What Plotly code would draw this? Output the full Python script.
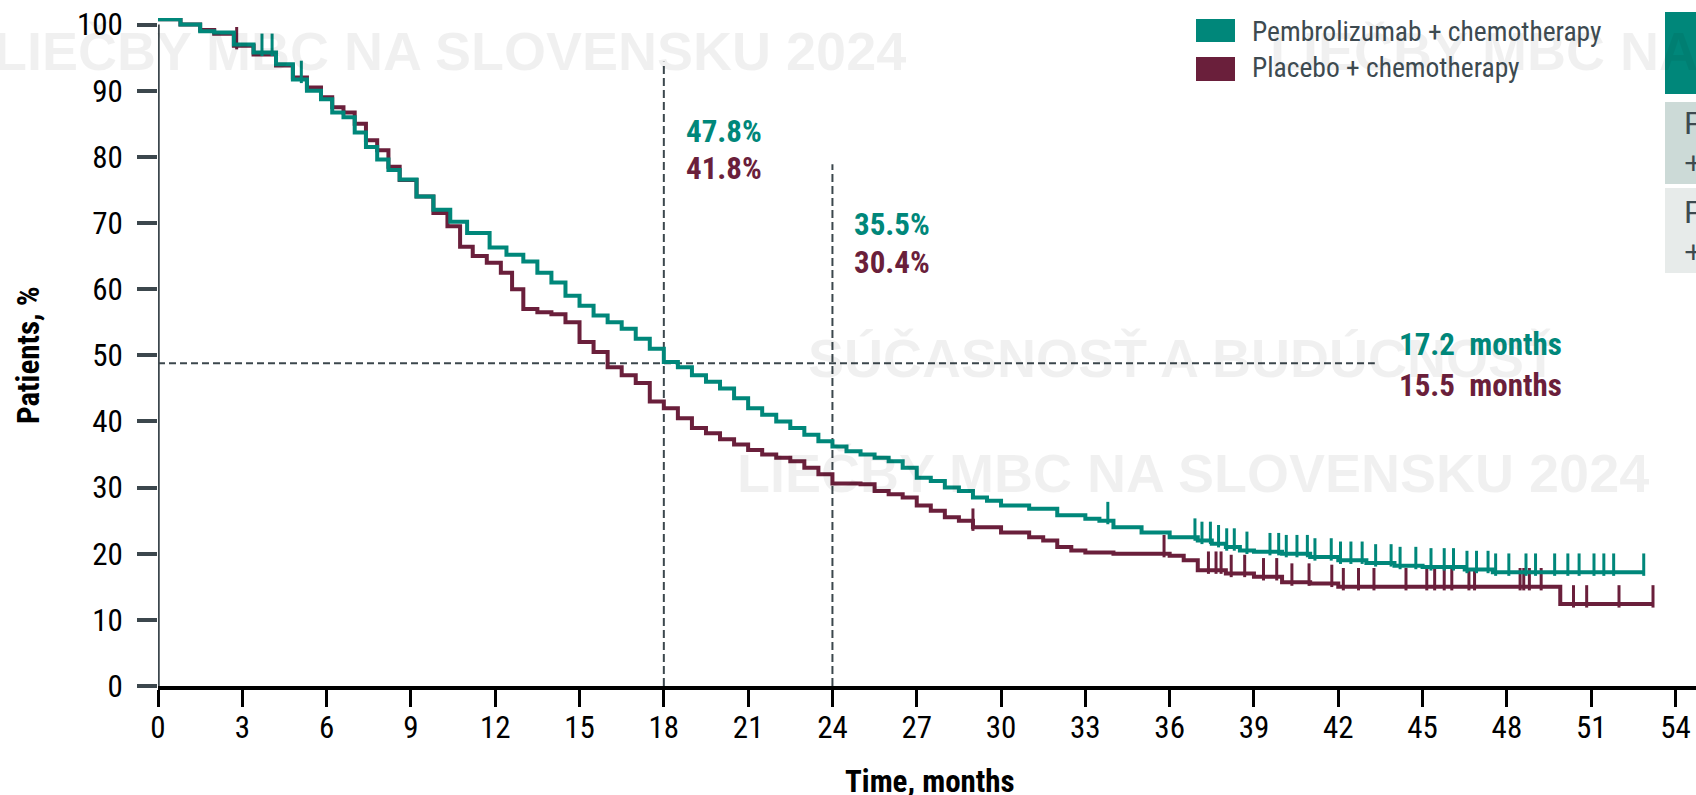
import numpy as np
import plotly.graph_objects as go

# ---------------- data ----------------
x_ticks = list(range(0, 55, 3))
y_ticks = list(range(0, 101, 10))

pem_t = [0, 0.8, 1.5, 2.0, 2.7, 3.4, 4.2, 4.8, 5.3, 5.8, 6.2, 6.6, 7.0, 7.4, 7.8, 8.2, 8.6, 9.2, 9.8,
         10.4, 11.0, 11.8, 12.4, 13.0, 13.5, 14.0, 14.5, 15.0, 15.5, 16.0, 16.5, 17.0, 17.5, 18.0,
         18.5, 19.0, 19.5, 20.0, 20.5, 21.0, 21.5, 22.0, 22.5, 23.0, 23.5, 24.0, 24.5, 25.0, 25.5,
         26.0, 26.5, 27.0, 27.5, 28.0, 28.5, 29.0, 29.5, 30.0, 31.0, 32.0, 33.0, 33.5, 34.0, 35.0,
         36.0, 37.0, 37.5, 38.0, 38.5, 39.0, 40.0, 41.0, 42.0, 43.0, 44.0, 45.0, 46.5, 47.5, 52.9]
pem_s = [100.8, 100, 99, 98.8, 97, 95.8, 94, 91.7, 90, 88.7, 86.7, 86, 83.7, 81.5, 79.6, 78, 76.6, 74, 72,
         70.2, 68.5, 66.3, 65.2, 64.2, 62.5, 61, 59, 57.5, 56, 55, 54, 52.5, 51, 49,
         48.2, 47, 46, 45, 43.5, 42, 41, 40, 39, 38, 37, 36.2, 35.5, 35, 34.5,
         34, 33, 31.5, 31, 30, 29.5, 28.5, 28, 27.3, 26.8, 25.8, 25.3, 25, 24, 23.2,
         22.5, 22, 21.5, 21, 20.5, 20.3, 20, 19.5, 19, 18.6, 18.2, 18, 17.6, 17.2, 17.2]

pla_t = [0, 0.8, 1.5, 2.0, 2.7, 3.4, 4.2, 4.8, 5.3, 5.8, 6.2, 6.6, 7.0, 7.4, 7.8, 8.2, 8.6, 9.2, 9.8,
         10.3, 10.75, 11.2, 11.7, 12.2, 12.6, 13.0, 13.5, 14.0, 14.5, 15.0, 15.5, 16.0, 16.5, 17.0,
         17.5, 18.0, 18.5, 19.0, 19.5, 20.0, 20.5, 21.0, 21.5, 22.0, 22.5, 23.0, 23.5, 24.0, 25.0,
         25.5, 26.0, 26.5, 27.0, 27.5, 28.0, 28.5, 29.0, 30.0, 31.0, 31.5, 32.0, 32.5, 33.0, 34.0,
         36.0, 36.5, 37.0, 38.0, 39.0, 40.0, 41.0, 42.0, 49.9, 53.2]
pla_s = [100.8, 100, 99.2, 98.6, 96.8, 95.5, 93.8, 92, 90.5, 89, 87.5, 86.7, 85, 82.5, 81, 78.5, 76.5, 74, 71.5,
         69.5, 66.4, 65, 64, 62.5, 60, 57, 56.5, 56.2, 55, 52, 50.5, 48.2, 47, 45.8,
         43, 42, 40.5, 39, 38.2, 37.3, 36.5, 35.7, 35, 34.5, 34, 33, 32, 30.6, 30.5,
         29.5, 29, 28.5, 27.3, 26.5, 25.5, 25, 24, 23.2, 22.5, 22, 21, 20.5, 20.2, 20,
         19.7, 19, 17.5, 17, 16.5, 15.7, 15.5, 15, 12.4, 12.4]

pem_cens = [3.7, 4.06, 5.1, 33.8, 36.9, 37.15, 37.45, 37.74, 38.03, 38.3, 38.75, 39.57, 39.88, 40.15,
            40.53, 40.9, 41.17, 41.75, 42.08, 42.45, 42.85, 43.33, 43.88, 44.2, 44.76, 45.3, 45.77,
            46.1, 46.58, 46.92, 47.33, 47.6, 48.07, 48.68, 49.02, 49.7, 50.17, 50.57, 51.1, 51.45,
            51.8, 52.87]
pla_cens = [2.8, 29.0, 35.8, 37.38, 37.65, 37.83, 38.19, 38.67, 39.34, 39.81, 40.35, 40.96, 41.77,
            42.18, 42.72, 43.27, 44.41, 45.15, 45.43, 45.77, 46.04, 46.65, 46.85, 48.47, 48.6, 48.8,
            49.22, 50.37, 50.84, 51.99, 53.2]

landmark_months = [18, 24]
landmark_tops = [94.4, 78.9]
median_level = 48.8
median_line_end = 43.3

pem_name = "Pembrolizumab + chemotherapy"
pla_name = "Placebo + chemotherapy"
pem_landmarks = ["47.8%", "35.5%"]
pla_landmarks = ["41.8%", "30.4%"]
medians = ["17.2\u00a0 months", "15.5\u00a0 months"]

# ---------------- style ----------------
TEAL = "#00877A"
MAROON = "#6A1F3B"
SLATE = "#3C474D"
FONT = "Roboto, sans-serif"          # rendered condensed (see post_script)
WM_FONT = "Liberation Sans, Arial, sans-serif"

W, H = 1696, 795
L, R, T, B = 158, 0, 18, 109
PW, PH = W - L - R, H - T - B
XR = [0, 54.73]
YR = [0, 101]


def px2x(px):  # figure pixel -> paper x
    return (px - L) / PW


def py2y(py):  # figure pixel -> paper y
    return (H - B - py) / PH


def step_at(ts, ss, t):
    i = np.searchsorted(np.asarray(ts), t, side="right") - 1
    return np.asarray(ss)[np.clip(i, 0, len(ss) - 1)]


tick_off = 1.15
fig = go.Figure()
for ts, ss, cens, col, name in [(pla_t, pla_s, pla_cens, MAROON, pla_name),
                                (pem_t, pem_s, pem_cens, TEAL, pem_name)]:
    fig.add_trace(go.Scatter(x=ts, y=ss, mode="lines", line=dict(color=col, width=4, shape="hv"),
                             name=name, showlegend=False))
    cy = (step_at(ts, ss, np.array(cens)) + tick_off).tolist()
    fig.add_trace(go.Scatter(x=cens, y=cy, mode="markers", showlegend=False, name=name + " censored",
                             marker=dict(symbol="line-ns", size=16, line=dict(color=col, width=3))))

shapes = []
for m, top in zip(landmark_months, landmark_tops):
    shapes.append(dict(type="line", xref="x", yref="y", x0=m, x1=m, y0=0, y1=top,
                       line=dict(color=SLATE, width=2, dash="8px,4px"), layer="below"))
shapes.append(dict(type="line", xref="x", yref="y", x0=0, x1=median_line_end, y0=median_level,
                   y1=median_level, line=dict(color=SLATE, width=2, dash="7px,4px"), layer="below"))
shapes.append(dict(type="line", xref="x", yref="y", x0=0, x1=0, y0=0, y1=100,
                   line=dict(color=SLATE, width=3.5)))

# legend swatches
shapes.append(dict(type="rect", xref="paper", yref="paper", x0=px2x(1196), x1=px2x(1235),
                   y0=py2y(42), y1=py2y(19), fillcolor=TEAL, line=dict(width=0)))
shapes.append(dict(type="rect", xref="paper", yref="paper", x0=px2x(1196), x1=px2x(1235),
                   y0=py2y(81), y1=py2y(57), fillcolor=MAROON, line=dict(width=0)))
# right-edge table fragment
shapes.append(dict(type="rect", xref="paper", yref="paper", x0=px2x(1665), x1=px2x(1700),
                   y0=py2y(94), y1=py2y(12), fillcolor=TEAL, line=dict(width=0)))
shapes.append(dict(type="rect", xref="paper", yref="paper", x0=px2x(1665), x1=px2x(1700),
                   y0=py2y(184), y1=py2y(102), fillcolor="#CCDAD7", line=dict(width=0)))
shapes.append(dict(type="rect", xref="paper", yref="paper", x0=px2x(1665), x1=px2x(1700),
                   y0=py2y(273), y1=py2y(188), fillcolor="#E7EBEA", line=dict(width=0)))

ann = []
WM = "rgba(0,0,0,0.06)"
for txt, xa, px, py in [("LIEČBY MBC NA SLOVENSKU 2024", "right", 908, 51),
                        ("LIEČBY MBC NA SLOVENSKU 2024", "left", 1268, 51),
                        ("SÚČASNOSŤ A BUDÚCNOSŤ", "left", 806, 358),
                        ("LIEČBY MBC NA SLOVENSKU 2024", "left", 735, 473)]:
    ann.append(dict(text=txt, xref="paper", yref="paper", x=px2x(px), y=py2y(py), xanchor=xa,
                    yanchor="middle", showarrow=False,
                    font=dict(family=WM_FONT, size=54, color=WM, weight="bold")))

ann.append(dict(text=pem_name, xref="paper", yref="paper", x=px2x(1250), y=py2y(31), xanchor="left",
                yanchor="middle", showarrow=False, font=dict(family=FONT, size=27.5, color="#3D4A50")))
ann.append(dict(text=pla_name, xref="paper", yref="paper", x=px2x(1250), y=py2y(67), xanchor="left",
                yanchor="middle", showarrow=False, font=dict(family=FONT, size=27.5, color="#3D4A50")))
for py in [123, 212]:
    ann.append(dict(text="P", xref="paper", yref="paper", x=px2x(1682), y=py2y(py), xanchor="left",
                    yanchor="middle", showarrow=False, font=dict(family=WM_FONT, size=32, color="#3D4A50")))
for py in [163, 252]:
    ann.append(dict(text="+", xref="paper", yref="paper", x=px2x(1682), y=py2y(py), xanchor="left",
                    yanchor="middle", showarrow=False, font=dict(family=WM_FONT, size=32, color="#3D4A50")))

lab_font = dict(family=FONT, size=31, weight="bold")
for i, m in enumerate(landmark_months):
    xl = m + 0.7
    ann.append(dict(text=pem_landmarks[i], x=xl, y=[83.85, 69.85][i], xref="x", yref="y",
                    xanchor="left", yanchor="middle", showarrow=False, font=dict(lab_font, color=TEAL)))
    ann.append(dict(text=pla_landmarks[i], x=xl, y=[78.25, 64.0][i], xref="x", yref="y",
                    xanchor="left", yanchor="middle", showarrow=False, font=dict(lab_font, color=MAROON)))
ann.append(dict(text=medians[0], x=44.1, y=51.6, xref="x", yref="y", xanchor="left", yanchor="middle",
                showarrow=False, font=dict(lab_font, color=TEAL)))
ann.append(dict(text=medians[1], x=44.1, y=45.4, xref="x", yref="y", xanchor="left", yanchor="middle",
                showarrow=False, font=dict(lab_font, color=MAROON)))

# axis titles
ann.append(dict(text="Patients, %", xref="paper", yref="paper", x=px2x(29), y=py2y(355), textangle=-90,
                xanchor="center", yanchor="middle", showarrow=False,
                font=dict(family=FONT, size=31, color="black", weight="bold")))
ann.append(dict(text="Time, months", xref="paper", yref="paper", x=px2x(930), y=py2y(781),
                xanchor="center", yanchor="middle", showarrow=False,
                font=dict(family=FONT, size=31, color="black", weight="bold")))

fig.update_layout(
    width=W, height=H, margin=dict(l=L, r=R, t=T, b=B, pad=0),
    plot_bgcolor="white", paper_bgcolor="white",
    shapes=shapes, annotations=ann, showlegend=False,
    xaxis=dict(range=XR, tickvals=x_ticks, ticktext=[str(v) for v in x_ticks], showgrid=False,
               zeroline=False, showline=True, linecolor="black", linewidth=3.5,
               ticks="outside", ticklen=17, tickwidth=3, tickcolor="black", ticklabelstandoff=-6,
               tickfont=dict(family=FONT, size=31, color="black")),
    yaxis=dict(range=YR, tickvals=y_ticks, ticktext=[str(v) for v in y_ticks], showgrid=False,
               zeroline=False, showline=False,
               ticks="outside", ticklen=20, tickwidth=3.5, tickcolor=SLATE, ticklabelstandoff=8,
               tickfont=dict(family=FONT, size=31, color="black")),
)

# The chart's lettering is a narrow grotesque: render Roboto in its condensed width,
# then redraw so that Plotly measures the texts in that width.
post_js = """
(function(){
  var st = document.createElement('style');
  st.textContent = 'text[style*="Roboto"]{font-stretch:75% !important;}';
  document.head.appendChild(st);
  var gd = document.getElementById('{plot_id}');
  var dat = gd.data;
  var lay = JSON.parse(JSON.stringify(gd.layout).split('Roboto, sans-serif').join('Roboto, Arial, sans-serif'));
  Plotly.newPlot(gd, dat, lay, {displayModeBar: false});
})();
"""

fig.write_html("out.html", post_script=post_js, config={"displayModeBar": False})
